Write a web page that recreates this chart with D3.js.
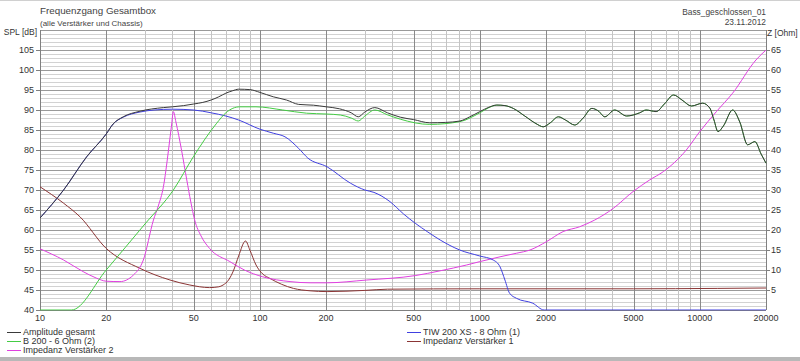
<!DOCTYPE html>
<html><head><meta charset="utf-8">
<script src="https://cdn.jsdelivr.net/npm/d3@7"></script>
<style>
html,body{margin:0;padding:0;background:#fff;}
svg{display:block;font-family:"Liberation Sans",Arial,sans-serif;}
</style></head>
<body><svg id="c" width="800" height="361"></svg>
<script>
// ---- data (frequency in Hz, SPL in dB / impedance in Ohm) ----
const xTickLabels = [10,20,50,100,200,500,1000,2000,5000,10000,20000];
const splTicks = [40,45,50,55,60,65,70,75,80,85,90,95,100,105];
const ohmTicks = [5,10,15,20,25,30,35,40,45,50,55,60,65];

const amplitudeGesamt = [[10,63],[12.8,70],[16.3,78.3],[20,84],[21.5,86.5],[23.9,88.3],[28.5,89.7],[36.4,90.6],[40,90.8],[45,91.1],[50,91.5],[55,91.9],[60,92.5],[65,93.3],[70,94.2],[75,94.8],[80,95.2],[90,95.1],[100,94.4],[115,93.3],[132,92.5],[150,91.4],[175,91.2],[200,90.8],[230,90.3],[260,89.3],[280,88.3],[300,89.5],[333,90.6],[380,89.3],[435,88.2],[500,87.6],[592,86.8],[700,86.9],[812,87.25],[900,88.3],[1000,89.6],[1100,90.7],[1195,91.25],[1300,91.1],[1418,90.4],[1600,88.5],[1800,86.6],[1942,85.8],[2090,86.8],[2275,88.3],[2450,87.5],[2700,86.25],[2950,88],[3230,90.4],[3450,89.8],[3700,88.3],[4100,90],[4650,88.5],[5330,89.3],[5700,90],[6330,89.6],[6900,91.5],[7600,93.75],[8300,92.5],[9160,91],[10300,91.7],[11100,90.5],[11600,87.5],[12100,84.6],[12800,86],[14100,90],[15200,87],[16500,81.3],[17800,82.1],[19000,79],[20000,76.7]];

const b200 = [[10,40],[13.9,40],[20,50],[30,61.5],[40.4,70],[49.8,78.3],[63.6,86.7],[70,89.3],[81,90.8],[96,90.8],[127,90],[163,89.2],[200,89.0],[232,88.75],[260,88],[280,87.25],[300,88.5],[333,90],[380,88.8],[435,87.7],[592,86.4],[812,87.1],[1000,89.3],[1100,90.6],[1195,91.2],[1300,91.1],[1418,90.4],[1600,88.5],[1800,86.6],[1942,85.8],[2090,86.8],[2275,88.3],[2450,87.5],[2700,86.25],[2950,88],[3230,90.4],[3450,89.8],[3700,88.3],[4100,90],[4650,88.5],[5330,89.3],[5700,90],[6330,89.6],[6900,91.5],[7600,93.75],[8300,92.5],[9160,91],[10300,91.7],[11100,90.5],[11600,87.5],[12100,84.6],[12800,86],[14100,90],[15200,87],[16500,81.3],[17800,82.1],[19000,79],[20000,76.7]];

const tiw200 = [[10,63],[12.8,70],[16.3,78.3],[20,84],[21.5,86.5],[23.9,88.2],[28.5,89.5],[33,90],[40,90.2],[50,90],[60,89.3],[70,88.5],[80,87.5],[100,85.2],[115,84.2],[130,83.3],[150,80.4],[165,78],[202,75.8],[258,71.7],[300,70],[330,69.4],[390,67.1],[450,64],[508,61.7],[580,59.5],[660,57.5],[810,55],[1000,53.5],[1150,52.5],[1235,50.8],[1300,47.5],[1365,44.2],[1470,42.9],[1740,41.7],[1960,40],[5000,40],[10000,40],[20000,40]];

const impedanz2 = [[10,15.3],[12.8,12.5],[15.7,9.6],[18,8],[20,7.2],[23.1,7.1],[26.6,8.75],[29.5,12.5],[32.8,22.5],[34.5,26],[36.4,30.8],[38.4,40],[39.6,46],[40.4,49.6],[41.5,47],[44,40],[46.5,32.5],[48.5,27],[50.5,22.5],[54,18.5],[59,15.4],[73,12.1],[85,10],[103,8.3],[137,7.1],[169,6.8],[202,6.8],[306,7.5],[508,8.6],[660,9.8],[870,11.25],[1000,12.1],[1235,13.3],[1470,14.2],[1690,15],[2010,17.1],[2390,19.6],[2840,20.8],[3330,22.5],[4040,25.4],[4970,29.6],[5910,32.5],[6830,34.6],[8680,40],[10000,44.6],[11900,49.6],[14100,54.2],[18000,62.5],[20000,65]];

const impedanz1 = [[10,30.8],[12.8,26.7],[15.2,23.3],[20,15.4],[28.5,10.4],[39,7.5],[48,6.25],[59,5.6],[65,5.8],[68,6.25],[72,7.5],[76,10],[80,13.5],[86,17.25],[90,15],[96,11.25],[103,9],[111,7.9],[142,5.4],[169,4.8],[202,4.6],[300,4.9],[380,5.2],[1000,5.3],[5000,5.3],[12000,5.4],[20000,5.5]];

const seriesNames = ["Amplitude gesamt","B 200 - 6 Ohm (2)","Impedanz Verstärker 2","TIW 200 XS - 8 Ohm (1)","Impedanz Verstärker 1"];

// ---- layout ----
const L = 40, R = 766, T = 30, B = 310;
const svg = d3.select("#c");
const x = d3.scaleLog().domain([10,20000]).range([L,R]);
const yS = d3.scaleLinear().domain([40,110]).range([B,T]);
const yZ = d3.scaleLinear().domain([0,70]).range([B,T]);

// borders of window
svg.append("rect").attr("x",0).attr("y",0).attr("width",800).attr("height",1).attr("fill","#d0d0d0");
svg.append("rect").attr("x",0).attr("y",357).attr("width",800).attr("height",4).attr("fill","#b8b8b8");

// grid
const g = svg.append("g");
const hVals = d3.range(40,111,1);
g.selectAll("line.h").data(hVals).join("line")
  .attr("x1",L).attr("x2",R)
  .attr("y1",d=>yS(d)+0.5).attr("y2",d=>yS(d)+0.5)
  .attr("stroke",d=>d%5===0?"#9a9a9a":"#d2d2d2").attr("stroke-width",1);
const vVals = [];
for (let e=1;e<=4;e++) for (let n=1;n<=9;n++){ const v=n*Math.pow(10,e); if(v>10&&v<20000) vVals.push(v); }
g.selectAll("line.v").data(vVals).join("line")
  .attr("x1",d=>Math.round(x(d))+0.5).attr("x2",d=>Math.round(x(d))+0.5)
  .attr("y1",T).attr("y2",B)
  .attr("stroke",d=>{const n=d/Math.pow(10,Math.floor(Math.log10(d)+1e-9));return (Math.abs(n-1)<1e-6||Math.abs(n-2)<1e-6||Math.abs(n-5)<1e-6)?"#8a8a8a":"#c4c4c4";})
  .attr("stroke-width",1);

// axes lines
svg.append("line").attr("x1",L+0.5).attr("x2",L+0.5).attr("y1",T).attr("y2",B).attr("stroke","#808080");
svg.append("line").attr("x1",R+0.5).attr("x2",R+0.5).attr("y1",T).attr("y2",B).attr("stroke","#808080");
svg.append("line").attr("x1",L).attr("x2",R).attr("y1",B+0.5).attr("y2",B+0.5).attr("stroke","#808080");

// clip
svg.append("clipPath").attr("id","clip").append("rect").attr("x",L).attr("y",T).attr("width",R-L+1).attr("height",B-T+0.5);
const plot = svg.append("g").attr("clip-path","url(#clip)");

const lineS = d3.line().x(d=>x(d[0])).y(d=>yS(d[1])).curve(d3.curveMonotoneX);
const lineZ = d3.line().x(d=>x(d[0])).y(d=>yZ(d[1])).curve(d3.curveMonotoneX);

const colors = {amp:"#3a3a3a", b200:"#44cc44", z2:"#e040e0", tiw:"#4040e0", z1:"#8b3535"};

plot.append("path").datum(impedanz1).attr("d",lineZ).attr("fill","none").attr("stroke",colors.z1).attr("stroke-width",1);
plot.append("path").datum(impedanz2).attr("d",lineZ).attr("fill","none").attr("stroke",colors.z2).attr("stroke-width",1);
plot.append("path").datum(tiw200).attr("d",lineS).attr("fill","none").attr("stroke",colors.tiw).attr("stroke-width",1);
plot.append("path").datum(b200).attr("d",lineS).attr("fill","none").attr("stroke",colors.b200).attr("stroke-width",1);
plot.append("path").datum(amplitudeGesamt).attr("d",lineS).attr("fill","none").attr("stroke",colors.amp).attr("stroke-width",1);

// left ticks
const tc = "#333";
const lt = svg.append("g");
lt.selectAll("line").data(splTicks).join("line").attr("x1",36).attr("x2",L).attr("y1",d=>yS(d)+0.5).attr("y2",d=>yS(d)+0.5).attr("stroke","#808080");
lt.selectAll("text").data(splTicks).join("text").attr("x",34).attr("y",d=>yS(d)).attr("dy","0.35em").attr("text-anchor","end").attr("font-size",9).attr("fill",tc).text(d=>d);
// right ticks
const rt = svg.append("g");
rt.selectAll("line").data(ohmTicks).join("line").attr("x1",R).attr("x2",R+4).attr("y1",d=>yZ(d)+0.5).attr("y2",d=>yZ(d)+0.5).attr("stroke","#808080");
rt.selectAll("text").data(ohmTicks).join("text").attr("x",R+5).attr("y",d=>yZ(d)).attr("dy","0.35em").attr("text-anchor","start").attr("font-size",9).attr("fill",tc).text(d=>d);
// x labels
svg.append("g").selectAll("text").data(xTickLabels).join("text").attr("x",d=>x(d)).attr("y",318).attr("dy","0.35em").attr("text-anchor","middle").attr("font-size",9).attr("fill",tc).text(d=>d);

// axis titles
svg.append("text").attr("x",37).attr("y",32).attr("dy","0.35em").attr("text-anchor","end").attr("font-size",8.5).attr("fill",tc).text("SPL [dB]");
svg.append("text").attr("x",767).attr("y",33).attr("dy","0.35em").attr("text-anchor","start").attr("font-size",8.5).attr("fill",tc).text("Z [Ohm]");

// titles
svg.append("text").attr("x",40).attr("y",11).attr("dy","0.35em").attr("font-size",9.8).attr("fill","#444").text("Frequenzgang Gesamtbox");
svg.append("text").attr("x",40).attr("y",23).attr("dy","0.35em").attr("font-size",8).attr("fill","#444").text("(alle Verstärker und Chassis)");
svg.append("text").attr("x",766).attr("y",12).attr("dy","0.35em").attr("text-anchor","end").attr("font-size",8.4).attr("fill","#444").text("Bass_geschlossen_01");
svg.append("text").attr("x",766).attr("y",22).attr("dy","0.35em").attr("text-anchor","end").attr("font-size",8.4).attr("fill","#444").text("23.11.2012");

// legend
const leg = [
  {name:seriesNames[0], c:colors.amp, x:7, y:332},
  {name:seriesNames[1], c:colors.b200, x:7, y:341},
  {name:seriesNames[2], c:colors.z2, x:7, y:350},
  {name:seriesNames[3], c:colors.tiw, x:407, y:332},
  {name:seriesNames[4], c:colors.z1, x:407, y:341}
];
const lg = svg.append("g");
leg.forEach(d=>{
  lg.append("line").attr("x1",d.x).attr("x2",d.x+14).attr("y1",d.y+0.5).attr("y2",d.y+0.5).attr("stroke",d.c);
  lg.append("text").attr("x",d.x+16).attr("y",d.y).attr("dy","0.35em").attr("font-size",9).attr("fill",tc).text(d.name);
});
</script></body></html>
